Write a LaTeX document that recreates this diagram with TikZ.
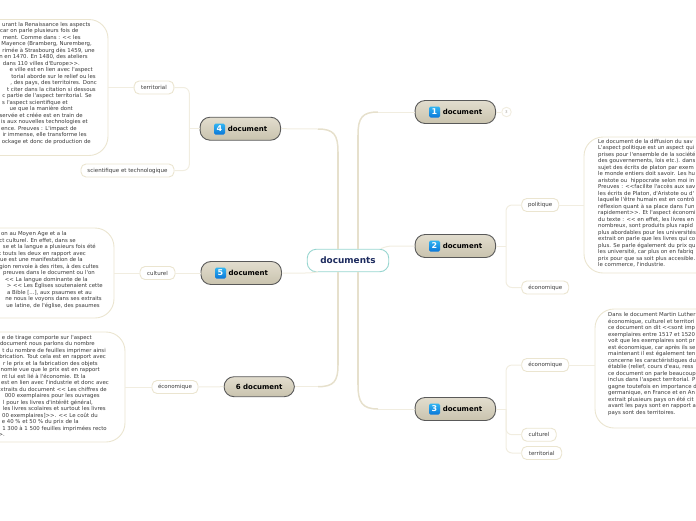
\documentclass[tikz,border=0pt]{standalone}
\usepackage{fontspec}
\setmainfont{DejaVu Sans}
\newfontfamily\bodyf{DejaVu Sans}
\definecolor{linec}{HTML}{F1EDE0}
\definecolor{thickc}{HTML}{E6E0CC}
\definecolor{boxc}{HTML}{EBE5D0}
\definecolor{txtc}{HTML}{3A3A3A}
\definecolor{rootb}{HTML}{98D6D0}
\definecolor{roott}{HTML}{1C2A5E}
\definecolor{mtop}{HTML}{E2DDCE}
\definecolor{mbot}{HTML}{C9C3AE}
\definecolor{btop}{HTML}{32B5F2}
\definecolor{bbot}{HTML}{0A77D8}
\newcommand{\rline}[2]{#2\mbox{\hspace*{\dimexpr 130pt-#1pt\relax}}\\}
\tikzset{
  x=1pt,y=-1pt,
  mainnode/.style={draw=black!65,line width=.9pt,rounded corners=10pt,top color=mtop,bottom color=mbot,
     minimum height=23pt,minimum width=80.5pt,inner sep=0pt,font=\bodyf\fontsize{7}{8}\selectfont\bfseries,text=black},
  badge/.style={rounded corners=1.5pt,top color=btop,bottom color=bbot,minimum size=11pt,inner sep=0pt,
     text=white,font=\bodyf\fontsize{8}{9}\selectfont\bfseries},
  side/.style={draw=boxc,line width=.9pt,fill=white,rounded corners=5pt,minimum height=13pt,inner sep=0pt,text=txtc,font=\bodyf\fontsize{5.5}{6.5}\selectfont},
  bigbox/.style={draw=boxc,line width=.9pt,fill=white,rounded corners=19pt,inner sep=0pt},
  bodytext/.style={inner sep=0pt,text=txtc,font=\bodyf\fontsize{5.4}{6.5}\selectfont},
  thinconn/.style={draw=linec,line width=1pt},
  thickconn/.style={draw=thickc,line width=2pt},
}
\begin{document}
\begin{tikzpicture}
\useasboundingbox (0,0) rectangle (696,520);
% big boxes
\node[bigbox,minimum width=178pt,minimum height=136pt] (boxA) at (19,87.5) {};
\node[bigbox,minimum width=154pt,minimum height=90pt] (boxB) at (37,273) {};
\node[bigbox,minimum width=175pt,minimum height=110pt] (boxC) at (37.5,387) {};
\node[bigbox,minimum width=150pt,minimum height=136pt] (boxD) at (659,205) {};
\node[bigbox,minimum width=140pt,minimum height=119pt] (boxE) at (665,368.5) {};
% main nodes
\node[draw=rootb,line width=.9pt,fill=white,rounded corners=9pt,minimum width=81.5pt,minimum height=22.5pt,inner sep=0pt,text=roott,font=\bodyf\fontsize{8.9}{10}\selectfont\bfseries] (root) at (348,260.5) {documents};
\node[mainnode] (n1) at (455.3,112) {\hspace*{14.3pt}document};
\node[mainnode] (n2) at (455.3,246) {\hspace*{14.3pt}document};
\node[mainnode] (n3) at (455.3,409) {\hspace*{14.3pt}document};
\node[mainnode] (n4) at (240.3,128.7) {\hspace*{14.3pt}document};
\node[mainnode] (n5) at (241.2,273) {\hspace*{14.3pt}document};
\node[mainnode,minimum width=70.3pt,minimum height=20pt] (n6) at (259.2,386.7) {6 document};
\node[badge] (b1) at (434.5,112) {1};
\node[badge] (b2) at (434.5,246) {2};
\node[badge] (b3) at (434.5,409) {3};
\node[badge] (b4) at (219.5,129) {4};
\node[badge] (b5) at (220.5,273) {5};
\node[circle,draw=linec,line width=.9pt,fill=white,minimum size=9.5pt,inner sep=0pt,text=linec!70!black,font=\bodyf\fontsize{4}{5}\selectfont] (n1c) at (506.5,112) {3};
% side labels
\node[side,minimum width=39.7pt] (territA) at (154,87.5) {territorial};
\node[side,minimum width=93pt] (sci) at (127.5,170.5) {scientifique et technologique};
\node[side,minimum width=35pt] (cultB) at (157.5,273) {culturel};
\node[side,minimum width=46pt] (ecoC) at (175,387) {économique};
\node[side,minimum width=37pt] (pol) at (540.2,205) {politique};
\node[side,minimum width=47pt] (ecoD) at (545.2,287.5) {économique};
\node[side,minimum width=47pt] (ecoE) at (545.2,365) {économique};
\node[side,minimum width=34.5pt] (cultE) at (539,434.7) {culturel};
\node[side,minimum width=40pt] (territE) at (541.7,453) {territorial};
% coordinates
\coordinate (ja) at (338,249);
\coordinate (jb) at (358,249);
\coordinate (jc) at (338,272);
\coordinate (jd) at (358,272);
\coordinate (bra) at (506,246);
\coordinate (brb) at (506,409);
\coordinate (brc) at (189.3,128.7);
% thick root connectors
\draw[thickconn] (jb) -- (358,135);
\draw[thickconn,line width=1.5pt] (358,135) .. controls (358,118) and (362,112) .. (378,112);
\draw[thinconn] (378,112) -- (n1.west);
\draw[thickconn] (ja) -- (338,152);
\draw[thickconn,line width=1.5pt] (338,152) .. controls (338,135) and (334,129) .. (318,129);
\draw[thinconn] (318,129) -- (n4.east);
\draw[thickconn] (jd) -- (358,385);
\draw[thickconn,line width=1.5pt] (358,385) .. controls (358,402) and (362,409) .. (378,409);
\draw[thinconn] (378,409) -- (n3.west);
\draw[thickconn] (jc) -- (338,365);
\draw[thickconn,line width=1.5pt] (338,365) .. controls (338,381) and (334,386.7) .. (318,386.7);
\draw[thinconn] (318,386.7) -- (n6.east);
\draw[thinconn] (n2.west) -- (393,246) .. controls (388,246) and (385,247) .. (381,248.5);
\draw[thinconn] (n5.east) -- (305,273) .. controls (311,273) and (314,272.5) .. (318,271.7);
% branches
\draw[thinconn] (n1.east) -- (n1c.west);
\draw[thinconn] (n2.east) -- (bra);
\draw[thinconn,rounded corners=6pt] (pol.west) -| (bra) |- (ecoD.west);
\draw[thinconn] (pol.east) -- (boxD.west |- pol.east);
\draw[thinconn] (n3.east) -- (brb);
\draw[thinconn,rounded corners=6pt] (ecoE.west) -| (brb) |- (territE.west);
\draw[thinconn,rounded corners=6pt] (brb) |- (cultE.west);
\draw[thinconn] (ecoE.east) -- (boxE.west |- ecoE.east);
\draw[thinconn] (n4.west) -- (brc);
\draw[thinconn,rounded corners=6pt] (territA.east) -| (brc) |- (sci.east);
\draw[thinconn] (territA.west) -- (boxA.east |- territA.west);
\draw[thinconn] (n5.west) -- (cultB.east);
\draw[thinconn] (cultB.west) -- (boxB.east |- cultB.west);
\draw[thinconn] (n6.west) -- (ecoC.east);
\draw[thinconn] (ecoC.west) -- (boxC.east |- ecoC.west);
% body text
\node[bodytext,anchor=north east,align=right] (tA) at (130,22) {%
\rline{90.7}{urant la Renaissance les aspects}
\rline{78.7}{car on parle plusieurs fois de}
\rline{81}{ment. Comme dans : << les}
\rline{92}{Mayence (Bramberg, Nuremberg,}
\rline{95}{rimée à Strasbourg dès 1459, une}
\rline{88}{n en 1470. En 1480, des ateliers}
\rline{80}{dans 110 villes d'Europe>>.}
\rline{93}{e ville est en lien avec l'aspect}
\rline{96}{torial aborde sur le relief ou les}
\rline{97}{, des pays, des territoires. Donc}
\rline{96}{t citer dans la citation si dessous}
\rline{92}{c partie de l'aspect territorial. Se}
\rline{68}{s l'aspect scientifique et}
\rline{73}{ue que la manière dont}
\rline{83}{servée et créée est en train de}
\rline{88}{is aux nouvelles technologies et}
\rline{77}{ence. Preuves : L'impact de}
\rline{87}{ir immense, elle transforme les}
\rline{91}{ockage et donc de production de}};
\node[bodytext,anchor=north east,align=right] (tB) at (130,231.5) {%
\rline{67}{on au Moyen Age et a la}
\rline{76}{ct culturel. En effet, dans se}
\rline{96}{se et la langue a plusieurs fois été}
\rline{86}{t touts les deux en rapport avec}
\rline{83}{ue est une manifestation de la}
\rline{99}{gion renvoie à des rites, à des cultes}
\rline{95}{preuves dans le document ou l'on}
\rline{88}{<< La langue dominante de la}
\rline{103}{> << Les Églises soutenaient cette}
\rline{92}{a Bible [...], aux psaumes et au}
\rline{102}{ne nous le voyons dans ses extraits}
\rline{100}{ue latine, de l'église, des psaumes}};
\node[bodytext,anchor=north east,align=right] (tC) at (130,335) {%
\rline{92}{e de tirage comporte sur l'aspect}
\rline{95}{document nous parlons du nombre}
\rline{106}{t du nombre de feuilles imprimer ainsi}
\rline{106}{brication. Tout cela est en rapport avec}
\rline{98}{r le prix et la fabrication des objets}
\rline{100}{nomie vue que le prix est en rapport}
\rline{86}{nt lui est lié à l'économie. Et la}
\rline{109}{est en lien avec l'industrie et donc avec}
\rline{107}{xtraits du document << Les chiffres de}
\rline{100}{000 exemplaires pour les ouvrages}
\rline{93}{l pour les livres d'intérêt général,}
\rline{106}{les livres scolaires et surtout les livres}
\rline{98}{00 exemplaires]>>. << Le coût du}
\rline{79}{e 40 \% et 50 \% du prix de la}
\rline{107}{1 300 à 1 500 feuilles imprimées recto}
\rline{5}{>.}};
\node[bodytext,anchor=north west,align=left] (tD) at (598,139) {%
Le document de la diffusion du sav\\
L'aspect politique est un aspect qui\\
prises pour l'ensemble de la société\\
des gouvernements, lois etc.). dans\\
sujet des écrits de platon par exem\\
le monde entiers doit savoir. Les hu\\
aristote ou\ \ hippocrate selon moi in\\
Preuves : <<facilite l'accès aux sav\\
les écrits de Platon, d'Aristote ou d'\\
laquelle l'être humain est en contrô\\
réflexion quant à sa place dans l'un\\
rapidement>>. Et l'aspect économi\\
du texte : << en effet, les livres en\\
nombreux, sont produits plus rapid\\
plus abordables pour les universités\\
extrait on parle que les livres qui co\\
plus. Se parle également du prix qu\\
les université, car plus on en fabriq\\
prix pour que sa soit plus accesible.\\
le commerce, l'industrie.};
\node[bodytext,anchor=north west,align=left] (tE) at (608,312.5) {%
Dans le document Martin Luther\\
économique, culturel et territori\\
ce document on dit <<sont imp\\
exemplaires entre 1517 et 1520\\
voit que les exemplaires sont pr\\
est économique, car après ils se\\
maintenant il est également ten\\
concerne les caractéristiques du\\
établie (relief, cours d'eau, ress\\
ce document on parle beaucoup\\
inclus dans l'aspect territorial. P\\
gagne toutefois en importance d\\
germanique, en France et en An\\
extrait plusieurs pays on été cit\\
avant les pays sont en rapport a\\
pays sont des territoires.};
\end{tikzpicture}
\end{document}
